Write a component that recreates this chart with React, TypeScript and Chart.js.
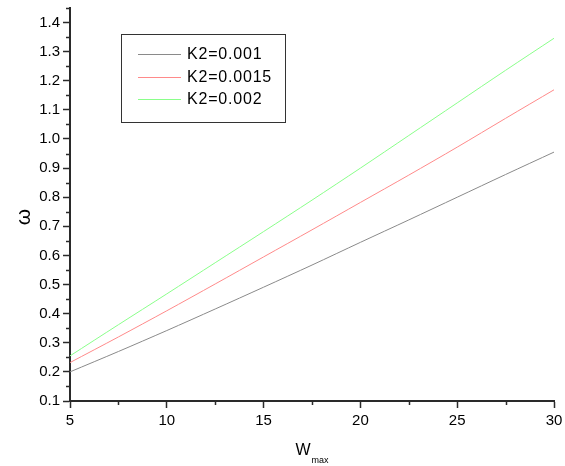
import React, { useEffect, useRef } from 'react';
import { Chart, registerables } from 'chart.js';

Chart.register(...registerables);

const wmax = [5, 7.5, 10, 12.5, 15, 17.5, 20, 22.5, 25, 27.5, 30];
const omegaK0010 = [0.2, 0.27, 0.342, 0.416, 0.491, 0.567, 0.645, 0.722, 0.8, 0.878, 0.955];
const omegaK0015 = [0.232, 0.32, 0.41, 0.502, 0.595, 0.688, 0.782, 0.876, 0.972, 1.071, 1.169];
const omegaK0020 = [0.255, 0.362, 0.468, 0.575, 0.682, 0.79, 0.9, 1.012, 1.124, 1.236, 1.346];
const seriesLabels = ['K2=0.001', 'K2=0.0015', 'K2=0.002'];
const seriesColors = ['#8a8a8a', '#ff8a8a', '#8aff8a'];
const yMinorTicks = [0.15, 0.25, 0.35, 0.45, 0.55, 0.65, 0.75, 0.85, 0.95, 1.05, 1.15, 1.25, 1.35, 1.45];
const xMinorTicks = [7.5, 12.5, 17.5, 22.5, 27.5];
const xTitle = 'W';
const xTitleSub = 'max';
const yTitle = 'ω';

const FONT = "Arial, 'Liberation Sans', sans-serif";
const AXIS_COLOR = '#2a2a2a';

const extrasPlugin = {
  id: 'extras',
  afterDraw(chart: any) {
    const { ctx, chartArea, scales } = chart;
    const xs = scales.x;
    const ys = scales.y;
    ctx.save();
    // minor ticks
    ctx.strokeStyle = AXIS_COLOR;
    ctx.lineWidth = 1.5;
    ctx.beginPath();
    for (const v of yMinorTicks) {
      const py = Math.round(ys.getPixelForValue(v)) + 0.5;
      ctx.moveTo(chartArea.left - 4, py);
      ctx.lineTo(chartArea.left, py);
    }
    for (const v of xMinorTicks) {
      const px = Math.round(xs.getPixelForValue(v)) + 0.5;
      ctx.moveTo(px, chartArea.bottom);
      ctx.lineTo(px, chartArea.bottom + 4);
    }
    ctx.stroke();

    // legend
    const lx = chartArea.left + 51;
    const ly = chartArea.top + 26;
    const lw = 164;
    const lh = 88;
    ctx.strokeStyle = '#333';
    ctx.lineWidth = 1;
    ctx.strokeRect(lx + 0.5, ly + 0.5, lw, lh);
    ctx.font = `16px ${FONT}`;
    (ctx as any).letterSpacing = '0.8px';
    ctx.fillStyle = '#000';
    ctx.textBaseline = 'middle';
    ctx.textAlign = 'left';
    chart.data.datasets.forEach((ds: any, i: number) => {
      const rowY = ly + 20 + i * 22.5;
      ctx.strokeStyle = ds.borderColor;
      ctx.lineWidth = 1;
      ctx.beginPath();
      ctx.moveTo(lx + 17, Math.round(rowY) + 0.5);
      ctx.lineTo(lx + 60, Math.round(rowY) + 0.5);
      ctx.stroke();
      ctx.fillText(ds.label, lx + 66, rowY + 1);
    });
    (ctx as any).letterSpacing = '0px';

    // x title with subscript
    ctx.fillStyle = '#000';
    ctx.textBaseline = 'alphabetic';
    ctx.font = `16px ${FONT}`;
    const wW = ctx.measureText(xTitle).width;
    ctx.font = `9px ${FONT}`;
    const wS = ctx.measureText(xTitleSub).width;
    const cx = (chartArea.left + chartArea.right) / 2;
    const startX = cx - (wW + wS + 1) / 2;
    ctx.font = `16px ${FONT}`;
    ctx.fillText(xTitle, startX, 455);
    ctx.font = `9px ${FONT}`;
    ctx.fillText(xTitleSub, startX + wW + 1, 462.5);

    // y title
    ctx.save();
    ctx.translate(30, 217);
    ctx.rotate(-Math.PI / 2);
    ctx.font = `21px ${FONT}`;
    ctx.textAlign = 'center';
    ctx.textBaseline = 'alphabetic';
    ctx.fillText(yTitle, 0, 0);
    ctx.restore();

    ctx.restore();
  },
};

export default function App() {
  const canvasRef = useRef<HTMLCanvasElement | null>(null);

  useEffect(() => {
    if (!canvasRef.current) return;
    const mk = (vals: number[]) => wmax.map((x, i) => ({ x, y: vals[i] }));
    const allSeries = [omegaK0010, omegaK0015, omegaK0020];
    const chart = new Chart(canvasRef.current, {
      type: 'line',
      data: {
        datasets: allSeries.map((vals, i) => ({
          label: seriesLabels[i],
          data: mk(vals),
          borderColor: seriesColors[i],
          backgroundColor: seriesColors[i],
          borderWidth: 1,
          pointRadius: 0,
          tension: 0.3,
          fill: false,
        })),
      },
      options: {
        animation: false,
        responsive: false,
        maintainAspectRatio: false,
        layout: { padding: { top: 8, right: 11, left: 0, bottom: 0 } },
        plugins: {
          legend: { display: false },
          tooltip: { enabled: false },
        },
        scales: {
          x: {
            type: 'linear',
            min: 5,
            max: 30,
            afterFit: (s: any) => { s.height = 65; s.paddingLeft = 0; s.paddingRight = 0; },
            border: { display: true, color: AXIS_COLOR, width: 2 },
            grid: { drawOnChartArea: false, drawTicks: true, tickLength: 7, tickColor: AXIS_COLOR, tickWidth: 1.5 },
            ticks: {
              stepSize: 5,
              includeBounds: false,
              color: '#000',
              padding: 4,
              maxRotation: 0,
              font: { family: FONT, size: 15 },
              callback: (v: any) => String(v),
            },
          },
          y: {
            type: 'linear',
            min: 0.1,
            max: 1.45,
            afterFit: (s: any) => { s.width = 70; s.paddingTop = 0; s.paddingBottom = 0; },
            border: { display: true, color: AXIS_COLOR, width: 2 },
            grid: { drawOnChartArea: false, drawTicks: true, tickLength: 7, tickColor: AXIS_COLOR, tickWidth: 1.5 },
            ticks: {
              stepSize: 0.1,
              includeBounds: false,
              color: '#000',
              padding: 3,
              font: { family: FONT, size: 15 },
              callback: (v: any) => Number(v).toFixed(1),
            },
          },
        },
      },
      plugins: [extrasPlugin],
    });
    return () => chart.destroy();
  }, []);

  return (
    <div style={{ position: 'absolute', left: 0, top: 0, width: 565, height: 466, background: '#fff' }}>
      <canvas ref={canvasRef} width={565} height={466} style={{ width: 565, height: 466 }} />
    </div>
  );
}
